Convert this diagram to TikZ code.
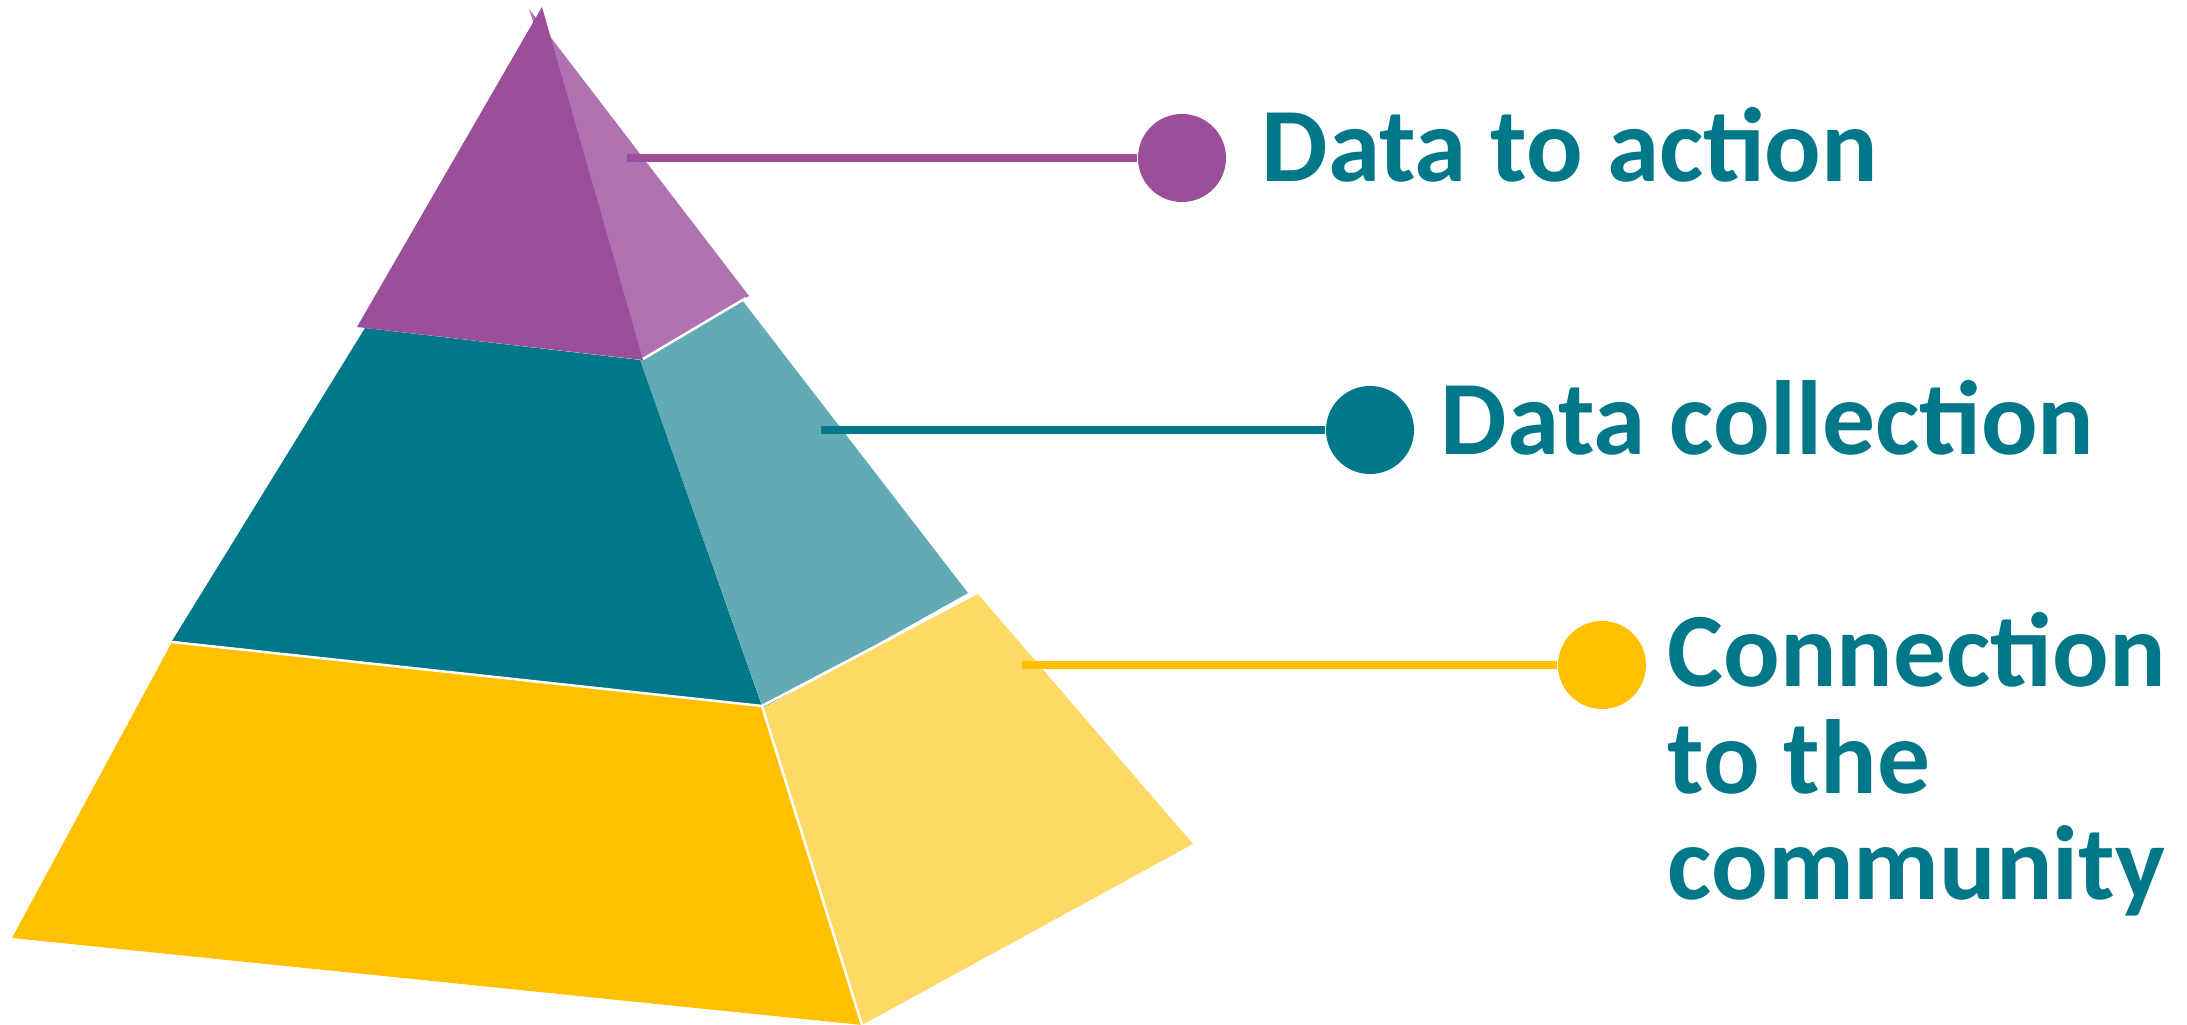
\documentclass[tikz,border=0pt]{standalone}
\usepackage{fontspec}
\setmainfont{Carlito}
\usetikzlibrary{positioning}
\definecolor{plum}{HTML}{9B4F9B}
\definecolor{plumlight}{HTML}{B072B0}
\definecolor{petrol}{HTML}{017889}
\definecolor{petrollight}{HTML}{62ABB5}
\definecolor{gold}{HTML}{FFC000}
\definecolor{goldlight}{HTML}{FFD966}

\begin{document}
\begin{tikzpicture}[x=0.01cm,y=-0.01cm,
  dot/.style={circle,fill=#1,inner sep=0pt,minimum size=0.88cm},
  link/.style={draw=#1,line width=0.075cm},
  seam/.style={white,line width=0.025cm},
  caption/.style={anchor=base west,text=petrol,inner sep=0pt,align=left,
    font=\bfseries\fontsize{30}{30.4}\selectfont}]
\useasboundingbox (0,0) rectangle (2187,1025);
% pyramid faces, back to front
\fill[plumlight] (529,9) -- (749,296) -- (643,360) -- cycle;
\fill[petrollight] (640,360) -- (742,300) -- (968,593) -- (763,708) -- cycle;
\fill[petrol] (365,328) -- (640,360) -- (762,706) -- (172,641) -- cycle;
\fill[plum] (542,7) -- (643,360) -- (357,327) -- cycle;
\fill[goldlight] (763,708) -- (977,593) -- (1193,844) -- (862,1025) -- cycle;
\fill[gold] (172,642) -- (762,706) -- (862,1025) -- (12,938) -- cycle;
% white seams
\draw[seam] (172,642) -- (762,706) -- (862,1025);
\draw[seam] (762,706) -- (977,593);
\draw[seam] (643,359) -- (746,298);
% markers
\node[dot=plum] (actiondot) at (1182,158) {};
\node[dot=petrol] (collectdot) at (1370,430) {};
\node[dot=gold] (communitydot) at (1602,665) {};
\coordinate (actionstart) at (627,158);
\coordinate (collectstart) at (821,430);
\coordinate (communitystart) at (1022,665);
\draw[link=plum] (actionstart) -- (actiondot);
\draw[link=petrol] (collectstart) -- (collectdot);
\draw[link=gold] (communitystart) -- (communitydot);
% labels (a multi-line node sits on its last baseline)
\node[caption] (action) at (1261,182) {Data to action};
\node[caption] (collect) at (1440,455) {Data collection};
\node[caption] (community) at (1667,900) {Connection\\to the\\community};
\end{tikzpicture}
\end{document}
